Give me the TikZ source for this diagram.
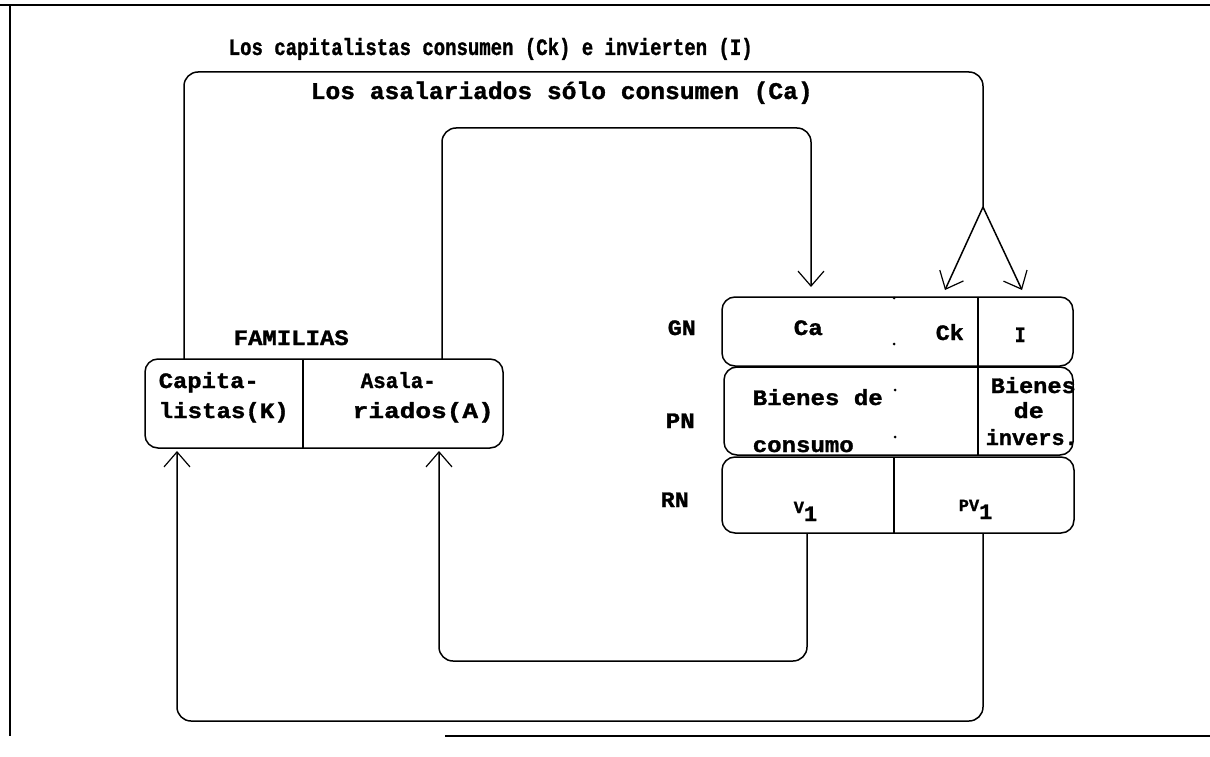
\documentclass[tikz,border=0pt]{standalone}
\usepackage{graphicx}
\usepackage{fontspec}
\setmainfont{Liberation Mono}[BoldFeatures={FakeBold=1.3}]
\usetikzlibrary{arrows.meta}
\newcommand{\tw}[2]{\resizebox{#1pt}{\height}{#2}}
\begin{document}
\begin{tikzpicture}[x=1pt,y=-1pt,
  line width=1.5pt,
  rbox/.style={draw, rounded corners=13pt, inner sep=0pt},
  lbl/.style={inner sep=0pt, anchor=base west, font=\fontsize{22}{22}\selectfont\bfseries},
  ttl/.style={inner sep=0pt, anchor=base west, font=\fontsize{24}{24}\selectfont\bfseries},
  flow/.style={rounded corners=14pt},
  arr/.style={-{Straight Barb[length=15pt,width=26pt,line width=1.2pt]}},
  dotm/.style={fill, circle, inner sep=0pt, minimum size=3pt}
]
\useasboundingbox (0,0) rectangle (1210,757);
% frame
\draw (0,5) -- (1210,5);
\draw (10,5) -- (10,736);
\draw (445,736) -- (1210,736);

% titles
\node[ttl] (t1) at (228,55) {\resizebox{524pt}{17pt}{Los capitalistas consumen (Ck) e invierten (I)}};
\node[ttl] (t2) at (310,99) {\tw{502}{Los asalariados sólo consumen (Ca)}};

% families
\node[rbox, minimum width=358pt, minimum height=89pt] (fam) at (324,403.5) {};
\draw (303,359) -- (303,448);
\node[lbl] (famt) at (233,345) {\tw{115}{FAMILIAS}};
\node[lbl] (k1) at (158,388) {\tw{100}{Capita-}};
\node[lbl] (k2) at (158,418) {\tw{130}{listas(K)}};
\node[lbl] (a1) at (360,388) {\tw{75}{Asala-}};
\node[lbl] (a2) at (352,418) {\tw{141}{riados(A)}};

% right block
\node[rbox, minimum width=351pt, minimum height=69pt] (gn) at (897.5,331.5) {};
\node[rbox, minimum width=349pt, minimum height=88pt] (pn) at (898.5,411) {};
\node[rbox, minimum width=352pt, minimum height=76pt] (rn) at (898,495) {};
\draw (978,297) -- (978,455);
\draw (894,457) -- (894,533);
\node[dotm] (d1) at (894,298) {};
\node[dotm] (d2) at (894,344) {};
\node[dotm] (d3) at (895,390) {};
\node[dotm] (d4) at (895,437) {};

\node[lbl] (gnl) at (667,335) {\tw{28}{GN}};
\node[lbl] (pnl) at (665,428) {\tw{29}{PN}};
\node[lbl] (rnl) at (660,507) {\tw{28}{RN}};

\node[lbl] (ca) at (793,335) {\tw{29}{Ca}};
\node[lbl] (ck) at (935,340) {\tw{28}{Ck}};
\node[lbl] (ii) at (1014,342) {\tw{11}{I}};
\node[lbl] (bc1) at (752,405) {\tw{130}{Bienes de}};
\node[lbl] (bc2) at (752,452) {\tw{101}{consumo}};
\node[lbl] (bi1) at (990,393) {\tw{85}{Bienes}};
\node[lbl] (bi2) at (1013,418) {\tw{30}{de}};
\node[lbl] (bi3) at (985,445) {\tw{92}{invers.}};
\node[lbl] (v1) at (793,513) {{\fontsize{17}{17}\selectfont V}\raisebox{-8pt}{1}};
\node[lbl] (pv1) at (958,511) {{\fontsize{17}{17}\selectfont PV}\raisebox{-8pt}{1}};

% connection points
\coordinate (kTop) at (184,359);
\coordinate (aTop) at (442,359);
\coordinate (kBot) at (177,451);
\coordinate (aBot) at (439,451);
\coordinate (caIn) at (811,287);
\coordinate (split) at (983,207);
\coordinate (ckIn) at (945,290);
\coordinate (iIn) at (1022,290);
\coordinate (vOut) at (807,533);
\coordinate (pvOut) at (983,533);

% flows
\draw[flow] (kTop) -- (184,72) -- (983,72) -- (split);
\draw[arr] (split) -- (ckIn);
\draw[arr] (split) -- (iIn);
\draw[flow,arr] (aTop) -- (442,128) -- (811,128) -- (caIn);
\draw[flow,arr] (vOut) -- (807,661) -- (439,661) -- (aBot);
\draw[flow,arr] (pvOut) -- (983,721) -- (177,721) -- (kBot);
\end{tikzpicture}
\end{document}
